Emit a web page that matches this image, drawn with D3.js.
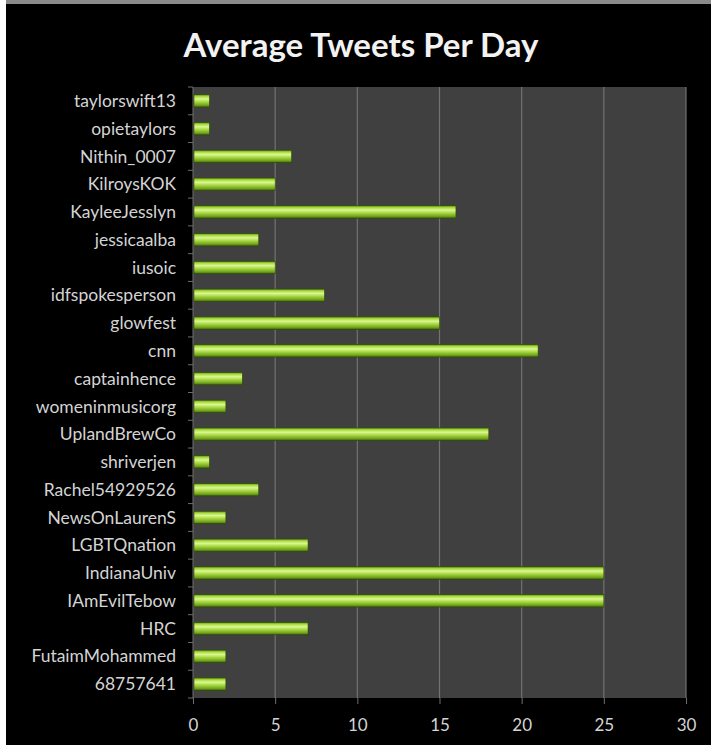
<!DOCTYPE html>
<meta charset="utf-8">
<script src="https://d3js.org/d3.v7.min.js"></script>
<style>
  body { margin: 0; background: #fff; }
</style>
<div id="my_dataviz"></div>
<script>

// data, top to bottom as shown
var users = ["taylorswift13", "opietaylors", "Nithin_0007", "KilroysKOK", "KayleeJesslyn",
  "jessicaalba", "iusoic", "idfspokesperson", "glowfest", "cnn", "captainhence",
  "womeninmusicorg", "UplandBrewCo", "shriverjen", "Rachel54929526", "NewsOnLaurenS",
  "LGBTQnation", "IndianaUniv", "IAmEvilTebow", "HRC", "FutaimMohammed", "68757641"];
var tweets = [1, 1, 6, 5, 16, 4, 5, 8, 15, 21, 3, 2, 18, 1, 4, 2, 7, 25, 25, 7, 2, 2];
var xTicks = [0, 5, 10, 15, 20, 25, 30];

var W = 711, H = 745;
var svg = d3.select("#my_dataviz").append("svg")
    .attr("width", W).attr("height", H)
    .style("display", "block");

// frame
svg.append("rect").attr("width", W).attr("height", H).attr("fill", "#fff");
svg.append("rect").attr("x", 6).attr("y", 0).attr("width", W - 6).attr("height", H).attr("fill", "#000");
svg.append("rect").attr("x", 6).attr("y", 0).attr("width", W - 6).attr("height", 4).attr("fill", "#8a8a8a");

var pL = 193, pR = 686, pT = 87, pB = 698;

var x = d3.scaleLinear().domain([0, 30]).range([pL, pR]);
var y = d3.scaleBand().domain(users).range([pT, pB]).paddingInner(0.55).paddingOuter(0.275);

// gradient for bars
var defs = svg.append("defs");
var grad = defs.append("linearGradient").attr("id", "barg")
    .attr("x1", 0).attr("y1", 0).attr("x2", 0).attr("y2", 1);
grad.append("stop").attr("offset", "0%").attr("stop-color", "#5f8e14");
grad.append("stop").attr("offset", "15%").attr("stop-color", "#a8dc3c");
grad.append("stop").attr("offset", "35%").attr("stop-color", "#dcf694");
grad.append("stop").attr("offset", "58%").attr("stop-color", "#a6d840");
grad.append("stop").attr("offset", "85%").attr("stop-color", "#72a21e");
grad.append("stop").attr("offset", "100%").attr("stop-color", "#3e6208");

// plot background
svg.append("rect")
    .attr("x", pL).attr("y", pT)
    .attr("width", pR - pL).attr("height", pB - pT)
    .attr("fill", "#404040");

// gridlines
svg.append("g").selectAll("line").data(xTicks.slice(1)).enter().append("line")
    .attr("x1", function(d) { return x(d); }).attr("x2", function(d) { return x(d); })
    .attr("y1", pT).attr("y2", pB)
    .attr("stroke", "#727272").attr("stroke-width", 1.2);

// bottom axis
var xAxis = svg.append("g")
    .attr("transform", "translate(0," + pB + ")")
    .call(d3.axisBottom(x).tickValues(xTicks).tickSize(6).tickPadding(15));
xAxis.select(".domain").remove();
xAxis.selectAll("line").attr("stroke", "#6e6e6e");
xAxis.selectAll("text")
    .attr("fill", "#d4d4d4")
    .style("font-family", "Lato, 'Open Sans', sans-serif")
    .style("font-size", "17px");

// left axis: ticks at band boundaries
var bounds = d3.range(users.length + 1).map(function(i) { return pT + i * (pB - pT) / users.length; });
svg.append("line")
    .attr("x1", pL).attr("x2", pL).attr("y1", pT).attr("y2", pB)
    .attr("stroke", "#6e6e6e");
svg.append("g").selectAll("line").data(bounds).enter().append("line")
    .attr("x1", pL - 5).attr("x2", pL)
    .attr("y1", function(d) { return d; }).attr("y2", function(d) { return d; })
    .attr("stroke", "#6e6e6e");

// labels
svg.append("g").selectAll("text").data(users).enter().append("text")
    .attr("x", pL - 17)
    .attr("y", function(d) { return y(d) + y.bandwidth() / 2; })
    .attr("dy", "0.35em")
    .attr("text-anchor", "end")
    .attr("fill", "#d4d4d4")
    .style("font-family", "Lato, 'Open Sans', sans-serif")
    .style("font-size", "17.5px")
    .text(function(d) { return d; });

// bars
svg.append("g").selectAll("rect").data(users).enter().append("rect")
    .attr("x", x(0) + 1)
    .attr("y", function(d) { return y(d); })
    .attr("width", function(d, i) { return x(tweets[i]) - x(0) - 1; })
    .attr("height", y.bandwidth())
    .attr("fill", "url(#barg)")
    .attr("stroke", "#2e4a06").attr("stroke-width", 0.6);

// title
svg.append("text")
    .attr("x", 361).attr("y", 57)
    .attr("text-anchor", "middle")
    .attr("fill", "#f2f2f2")
    .style("font-family", "Lato, 'Open Sans', sans-serif")
    .style("font-weight", "bold")
    .style("font-size", "33px")
    .text("Average Tweets Per Day");

</script>
